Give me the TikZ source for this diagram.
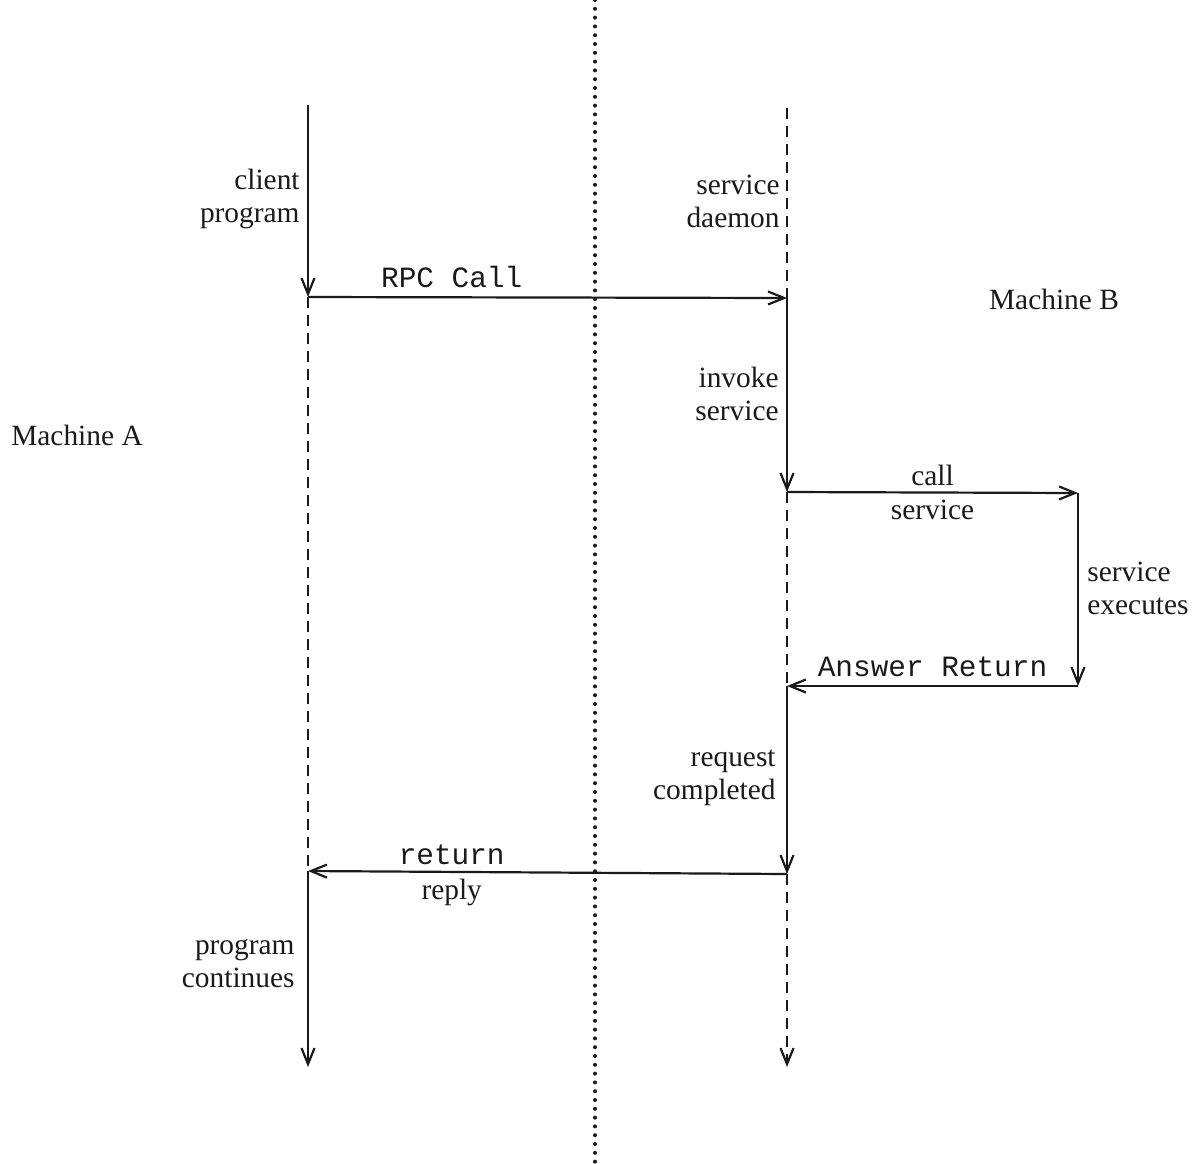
\documentclass[tikz,border=0pt]{standalone}
\usepackage{fontspec}
\setmainfont{Liberation Serif}
\setmonofont{Liberation Mono}
\usepackage{tikz}
\usetikzlibrary{positioning,arrows.meta,calc}
\definecolor{lineInk}{HTML}{1a1a1a}
\tikzset{
  lifeline/.style={draw=lineInk,line width=1.1pt},
  idleline/.style={lifeline,dash pattern=on 5.5pt off 3.5pt},
  msg/.style={lifeline,-{Straight Barb[length=8pt,width=6.5pt]}},
  idlemsg/.style={idleline,-{Straight Barb[length=8pt,width=6.5pt]}},
  note/.style={text=lineInk,font=\fontsize{14.7}{16.5}\selectfont,inner sep=1pt},
  sidenote/.style={note,align=right,anchor=east},
  callnote/.style={note,font=\fontsize{14.7}{16.5}\selectfont\ttfamily}
}
\begin{document}
\begin{tikzpicture}[x=0.5pt,y=-0.5pt]
\useasboundingbox (0,0) rectangle (1199,1163);
% lifeline points
\coordinate (cTop) at (308,105);
\coordinate (cCall) at (308,297);
\coordinate (cRet) at (308,871);
\coordinate (cEnd) at (308,1067);
\coordinate (sTop) at (787,108);
\coordinate (sCall) at (787,298);
\coordinate (sInv) at (787,492);
\coordinate (sAns) at (787,686);
\coordinate (sRet) at (787,874);
\coordinate (sEnd) at (787,1067);
\coordinate (xCall) at (1078,493);
\coordinate (xAns) at (1078,686);
\coordinate (netTop) at (595,0);
\coordinate (netEnd) at (595,1163);

% boundary between the machines
\draw[lineInk,line width=2pt,line cap=round,dash pattern=on 0pt off 4.4pt] (netTop) -- (netEnd);

% machine A
\draw[msg] (cTop) -- (cCall);
\draw[idleline] (cCall) -- (cRet);
\draw[msg] (cRet) -- (cEnd);
% machine B
\draw[idleline] (sTop) -- (sCall);
\draw[msg] (sCall) -- (sInv);
\draw[idleline] (sInv) -- (sAns);
\draw[msg] (sAns) -- (sRet);
\draw[idlemsg] (sRet) -- (sEnd);
\draw[msg] (xCall) -- (xAns);

% messages
\draw[msg] (cCall) -- node[callnote,above=3pt,pos=0.3] {RPC Call} (sCall);
\draw[msg] (sInv) -- node[note,above=2pt] {call} node[note,below=2pt] {service} (xCall);
\draw[msg] (xAns) -- node[callnote,above=3pt] {Answer Return} (sAns);
\draw[msg] (sRet) -- node[callnote,above=2pt,pos=0.7] {return} node[note,below=2pt,pos=0.7] {reply} (cRet);

% labels
\node[sidenote] (client) at (302,199) {client\\program};
\node[sidenote] (daemon) at (782,201) {service\\daemon};
\node[sidenote] (invoke) at (781,394) {invoke\\service};
\node[note,align=left,anchor=west] (execute) at (1085,588) {service\\executes};
\node[sidenote] (done) at (778,778) {request\\completed};
\node[sidenote] (cont) at (297,964) {program\\continues};
\node[note] (machA) at (77,435) {Machine A};
\node[note] (machB) at (1054,299) {Machine B};
\end{tikzpicture}
\end{document}
